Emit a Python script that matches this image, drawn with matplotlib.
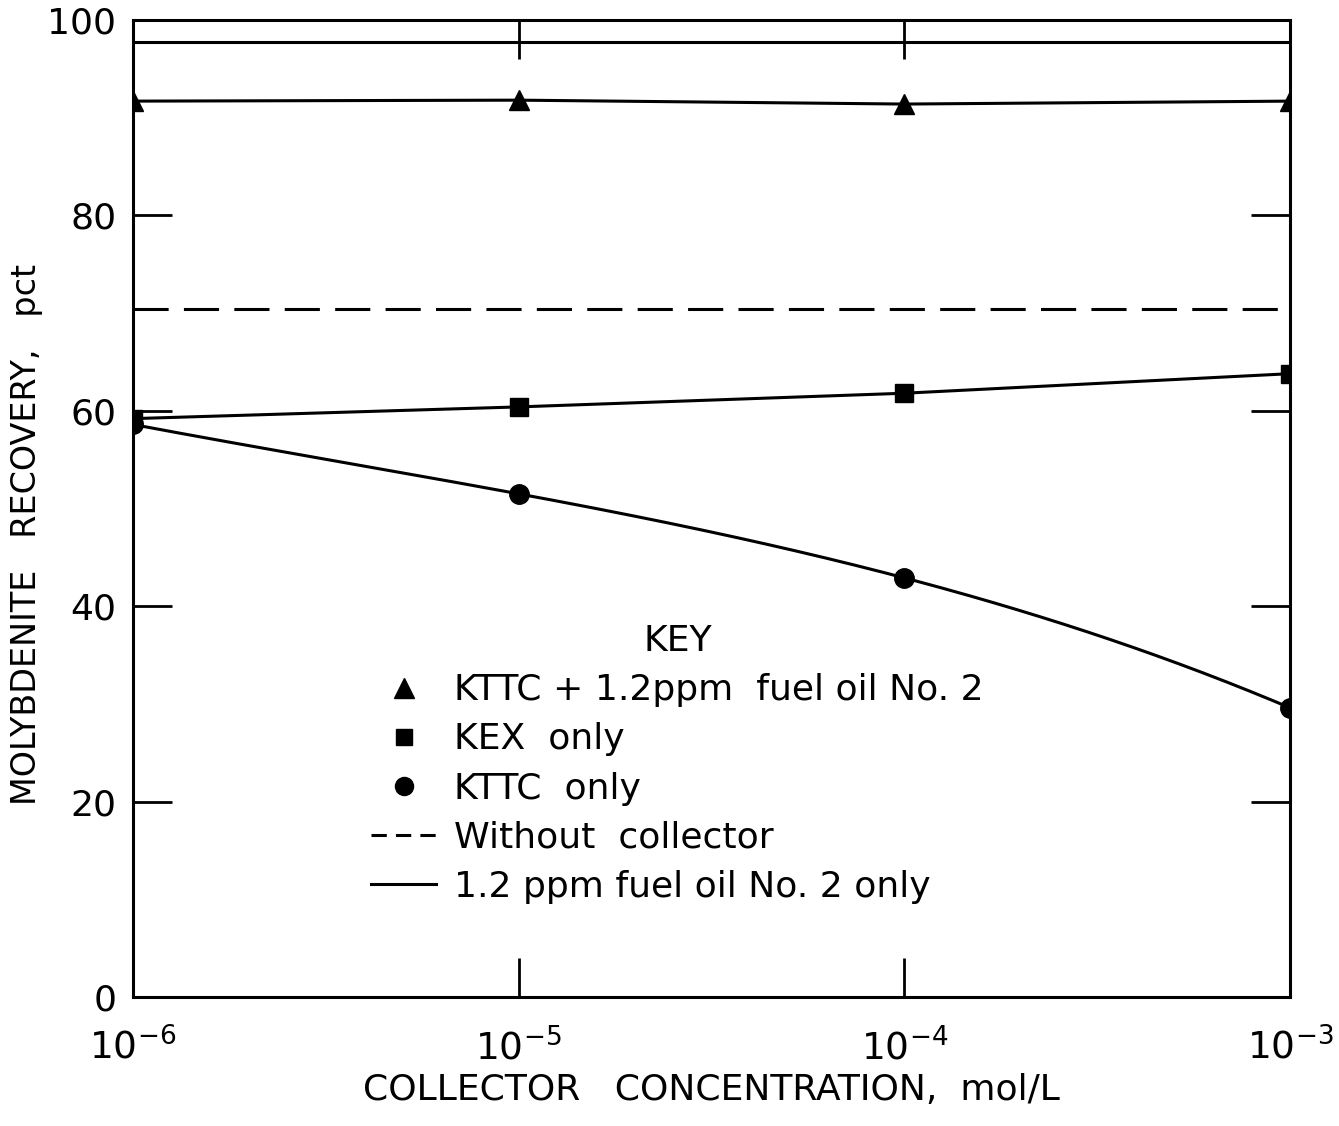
#!/usr/bin/env python3
"""
Molybdenite recovery vs collector concentration.
"""

import matplotlib

matplotlib.use("Agg")
import matplotlib.pyplot as plt
import numpy as np
from matplotlib.lines import Line2D


concentration = [1e-6, 1e-5, 1e-4, 1e-3]
kttc_fuel_oil = [91.7, 91.8, 91.4, 91.7]
kex_only = [59.2, 60.4, 61.8, 63.8]
kttc_only = [58.6, 51.5, 42.9, 29.6]
without_collector = 70.4
fuel_oil_only = 97.8

legend_labels = [
    "KTTC + 1.2ppm  fuel oil No. 2",
    "KEX  only",
    "KTTC  only",
    "Without  collector",
    "1.2 ppm fuel oil No. 2 only",
]

plt.rcParams["font.family"] = ["DejaVu Sans"]
plt.rcParams["mathtext.fontset"] = "dejavusans"

fig = plt.figure(figsize=(13.39, 11.26), dpi=100)
ax = fig.add_axes([0.0993, 0.1146, 0.8641, 0.8676])

lw = 2.2
ax.axhline(fuel_oil_only, color="black", linewidth=lw)
ax.axhline(without_collector, color="black", linewidth=lw, dashes=(11.5, 5))
ax.plot(concentration, kttc_fuel_oil, color="black", linewidth=lw,
        marker="^", markersize=15)
ax.plot(concentration, kex_only, color="black", linewidth=lw,
        marker="s", markersize=13)

# smooth curve through the KTTC-only points (log-x)
logx = np.log10(concentration)
coef = np.polyfit(logx, kttc_only, 3)
xs = np.linspace(logx[0], logx[-1], 200)
ax.plot(10 ** xs, np.polyval(coef, xs), color="black", linewidth=lw)
ax.plot(concentration, kttc_only, linestyle="none", color="black",
        marker="o", markersize=14)

ax.set_xscale("log")
ax.set_xlim(1e-6, 1e-3)
ax.set_ylim(0, 100)
ax.set_xticks(concentration)
ax.set_xticklabels([r"$\mathregular{10^{-6}}$", r"$\mathregular{10^{-5}}$",
                    r"$\mathregular{10^{-4}}$", r"$\mathregular{10^{-3}}$"])
ax.minorticks_off()
ax.set_yticks([0, 20, 40, 60, 80, 100])
ax.set_yticklabels(["0", "20", "40", "60", "80", "100"])
ax.tick_params(axis="both", direction="in", length=28, width=2,
               top=True, right=True, labelsize=26, pad=12)
ax.tick_params(axis="x", pad=22, labelsize=27)
for spine in ax.spines.values():
    spine.set_linewidth(2.2)

ax.set_xlabel("COLLECTOR   CONCENTRATION,  mol/L", fontsize=26, labelpad=4)
ax.set_ylabel("MOLYBDENITE   RECOVERY,   pct", fontsize=24)
ax.yaxis.set_label_coords(-0.078, 0.473)

handles = [
    Line2D([], [], color="black", marker="^", linestyle="none", markersize=15),
    Line2D([], [], color="black", marker="s", linestyle="none", markersize=12),
    Line2D([], [], color="black", marker="o", linestyle="none", markersize=13),
    Line2D([], [], color="black", linewidth=lw, dashes=(5, 3)),
    Line2D([], [], color="black", linewidth=lw),
]
leg = ax.legend(handles, legend_labels, title="KEY", frameon=False,
                fontsize=26, title_fontsize=26, handlelength=1.8,
                handletextpad=0.5, labelspacing=0.42,
                loc="upper left", bbox_to_anchor=(0.178, 0.415))

fig.savefig("out.png", dpi=100)
